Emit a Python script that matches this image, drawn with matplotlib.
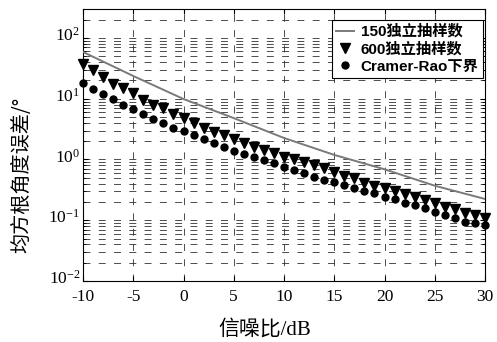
import numpy as np
import matplotlib
matplotlib.use("Agg")
import matplotlib.pyplot as plt
import matplotlib.transforms as mtransforms
from matplotlib.ticker import LogLocator, LogFormatterSciNotation, MultipleLocator, NullFormatter

plt.rcParams['font.family'] = ['Liberation Serif', 'Noto Sans CJK SC']
plt.rcParams['mathtext.fontset'] = 'custom'
plt.rcParams['mathtext.rm'] = 'Liberation Serif'
plt.rcParams['lines.scale_dashes'] = False
plt.rcParams['axes.unicode_minus'] = False

# SNR axis (dB)
snr = np.arange(-10, 31)
snr_line = [-10, -5, 0, 5, 10, 15, 20, 25, 30]

# RMS angle error (deg), 150 independent samples
rmse_150 = [58.9, 23.7, 9.9, 4.8, 2.26, 1.19, 0.69, 0.37, 0.224]

# RMS angle error (deg), 600 independent samples
rmse_600 = [37.3, 29.7, 22.8, 17.5, 15.0, 12.4, 9.5, 7.9, 7.0, 5.6,
            4.8, 4.0, 3.3, 2.84, 2.53, 2.17, 1.87, 1.61, 1.43, 1.28,
            1.10, 1.02, 0.91, 0.81, 0.72, 0.62, 0.53, 0.50, 0.41, 0.37,
            0.34, 0.30, 0.27, 0.24, 0.215, 0.192, 0.165, 0.153, 0.131, 0.122,
            0.109]

# Cramer-Rao lower bound
crb = [18.2, 14.5, 12.0, 9.9, 7.9, 6.8, 5.6, 4.6, 4.0, 3.3,
       2.95, 2.53, 2.17, 1.87, 1.61, 1.38, 1.23, 1.10, 0.98, 0.87,
       0.75, 0.67, 0.60, 0.52, 0.46, 0.43, 0.38, 0.34, 0.30, 0.28,
       0.24, 0.224, 0.192, 0.178, 0.159, 0.137, 0.122, 0.109, 0.094, 0.090,
       0.084]

labels = ['150独立抽样数', '600独立抽样数', 'Cramer-Rao下界']

fig = plt.figure(figsize=(4.97, 3.42), dpi=100)
ax = fig.add_axes([83 / 497, 1 - 281 / 342, 402 / 497, 272 / 342])

ax.semilogy(snr_line, rmse_150, color='#7a7a7a', lw=1.4, label=labels[0], zorder=3)
ax.semilogy(snr, rmse_600, 'v', color='k', ms=6.8, label=labels[1], clip_on=False, zorder=4)
ax.semilogy(snr, crb, 'o', color='k', ms=5, label=labels[2], clip_on=False, zorder=4)

ax.set_xlim(-10, 30)
ax.set_ylim(1e-2, 3e2)
ax.xaxis.set_major_locator(MultipleLocator(5))
ax.yaxis.set_minor_locator(LogLocator(base=10, subs=np.arange(2, 10), numticks=20))
ax.yaxis.set_major_formatter(LogFormatterSciNotation())
ax.yaxis.set_minor_formatter(NullFormatter())
ax.set_yticks([1e-2, 1e-1, 1e0, 1e1, 1e2])

ax.grid(which='major', axis='both', color='#303030', lw=0.6, ls=(0, (5, 6)))
ax.grid(which='minor', axis='y', color='#303030', lw=0.6, ls=(0, (5, 6)))

ax.tick_params(which='both', direction='in', top=True, right=True, labelsize=12.5)
ax.tick_params(axis='y', pad=2)
ax.tick_params(axis='x', pad=6)
for s in ax.spines.values():
    s.set_linewidth(0.8)

# nudge the decade labels up a little
shift = mtransforms.ScaledTranslation(0, 4 / 100, fig.dpi_scale_trans)
for lab in ax.get_yticklabels():
    lab.set_transform(lab.get_transform() + shift)

ax.set_xlabel('信噪比/dB', fontsize=15, va='center')
ax.xaxis.set_label_coords(0.453, -0.18)
ax.set_ylabel('均方根角度误差/°', fontsize=14.5, va='center',
              family=['Noto Sans CJK SC'])
ax.yaxis.set_label_coords(-0.152, 0.39)

leg = ax.legend(loc='upper right', bbox_to_anchor=(0.995, 0.96), borderaxespad=0,
                fancybox=False, edgecolor='k', framealpha=1, handlelength=1.2,
                handletextpad=0.4, labelspacing=0.2, borderpad=0.3,
                prop={'family': ['Liberation Sans', 'Noto Sans CJK SC'],
                      'size': 11, 'weight': 'bold'})
leg.get_frame().set_linewidth(0.8)

fig.savefig('out.png', dpi=100)
